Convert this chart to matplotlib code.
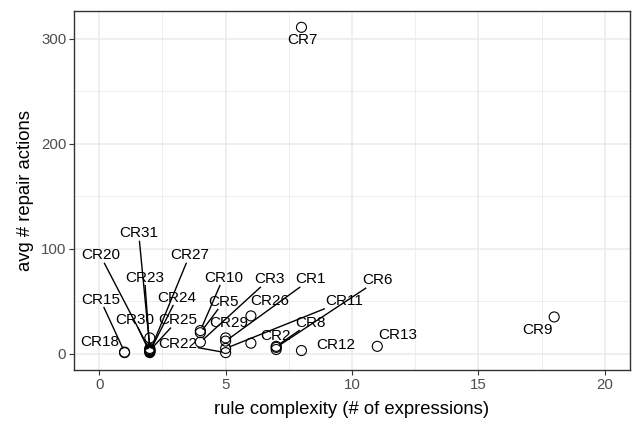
import matplotlib

matplotlib.use("Agg")

import matplotlib.pyplot as plt
import numpy as np

plt.rcParams["font.family"] = ["Liberation Sans", "DejaVu Sans"]

# repair-action data per constraint rule
rule_names = [
    "CR1", "CR2", "CR3", "CR5", "CR6", "CR7", "CR8", "CR9", "CR10", "CR11",
    "CR12", "CR13", "CR15", "CR18", "CR20", "CR22", "CR23", "CR24", "CR25",
    "CR26", "CR27", "CR29", "CR30", "CR31", "", "",
]
complexity = [5, 7, 4, 4, 7, 8, 7, 18, 4, 5, 8, 11, 1, 1, 2, 5, 2, 2, 2, 6, 2, 5, 2, 2, 2, 6]
repair_actions = [12, 4, 11, 20, 6, 311, 7, 35, 22, 5, 3, 7, 1.5, 1, 3, 1, 4, 2, 3, 36, 2, 15, 1, 5, 15, 10]

# repelled label placements (data coordinates), one per labelled rule
label_x = [8.37, 6.98, 6.72, 4.93, 11.02, 8.04, 8.37, 17.33, 4.91, 9.69,
           9.37, 11.8, 0.04, 0.01, 0.04, 3.11, 1.79, 3.08, 3.11,
           6.76, 3.57, 5.13, 1.39, 1.56]
label_y = [70.9, 17.1, 70.9, 49.7, 70.0, 298.8, 29.7, 22.8, 72.5, 50.3,
           8.5, 18.0, 51.6, 10.7, 93.7, 9.2, 72.5, 53.5, 32.0,
           50.3, 93.7, 29.7, 32.0, 114.6]

x_ticks = [0, 5, 10, 15, 20]
y_ticks = [0, 100, 200, 300]

W, H = 634, 430
fig = plt.figure(figsize=(W / 100, H / 100), dpi=100)
ax = fig.add_axes([74 / W, 1 - 370 / H, (630 - 74) / W, (370 - 11) / H])

ax.set_xlim(-1, 21)
ax.set_ylim(-15.55, 326.55)
ax.set_xticks(x_ticks)
ax.set_yticks(y_ticks)
ax.set_xticks([2.5, 7.5, 12.5, 17.5], minor=True)
ax.set_yticks([50, 150, 250], minor=True)
ax.grid(True, which="major", color="#EBEBEB", linewidth=1.1)
ax.grid(True, which="minor", color="#EBEBEB", linewidth=0.6)
ax.set_axisbelow(True)
ax.tick_params(which="minor", length=0)
ax.tick_params(which="major", length=3.4, width=0.8, color="#333333",
               labelcolor="#4D4D4D", labelsize=10.8, pad=2.2)
for spine in ax.spines.values():
    spine.set_color("#333333")
    spine.set_linewidth(1.0)

ax.scatter(complexity, repair_actions, s=52, facecolors="none",
           edgecolors="black", linewidths=0.8, zorder=3)

texts = []
for i, (lx, ly) in enumerate(zip(label_x, label_y)):
    t = ax.text(lx, ly, rule_names[i], ha="center", va="center",
                fontsize=11, color="black", zorder=4)
    texts.append(t)

ax.set_xlabel("rule complexity (# of expressions)", fontsize=13.3, labelpad=7)
ax.set_ylabel("avg # repair actions", fontsize=13.3, labelpad=5)

# leader segments like ggrepel: from label box edge to the point
fig.canvas.draw()
renderer = fig.canvas.get_renderer()
inv = ax.transData.inverted()
marker_r = 4.5
for i, t in enumerate(texts):
    bb = t.get_window_extent(renderer)
    cx, cy = (bb.x0 + bb.x1) / 2, (bb.y0 + bb.y1) / 2
    hw, hh = bb.width / 2 + 1, bb.height / 2 + 1
    px, py = ax.transData.transform((complexity[i], repair_actions[i]))
    gap_x = max(bb.x0 - px, 0, px - bb.x1)
    gap_y = max(bb.y0 - py, 0, py - bb.y1)
    if np.hypot(gap_x, gap_y) < 18:
        continue
    dx, dy = px - cx, py - cy
    s = min(hw / abs(dx) if dx else np.inf, hh / abs(dy) if dy else np.inf)
    sx, sy = cx + dx * s, cy + dy * s
    d = np.hypot(px - sx, py - sy)
    ex, ey = px - (px - sx) / d * marker_r, py - (py - sy) / d * marker_r
    (x0, y0), (x1, y1) = inv.transform([(sx, sy), (ex, ey)])
    ax.plot([x0, x1], [y0, y1], color="black", linewidth=1.0, zorder=2)

fig.savefig("out.png", dpi=100)
plt.close(fig)
